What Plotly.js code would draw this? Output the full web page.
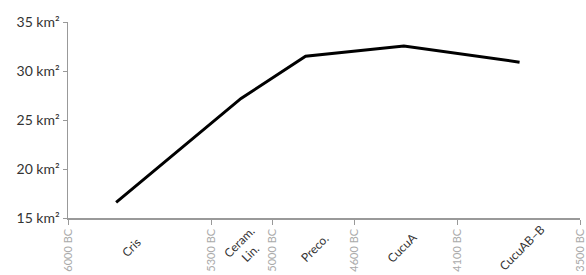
<!DOCTYPE html>
<html>
<head>
<meta charset="utf-8">
<script src="https://cdn.plot.ly/plotly-3.0.1.min.js"></script>
<style>html,body{margin:0;padding:0;background:#fff;}#chart{width:586px;height:275px;}</style>
</head>
<body>
<div id="chart"></div>
<script>
// Data (years BC, settlement area in km²)
var years = [5765, 5155, 4840, 4360, 3795];
var area = [16.6, 27.2, 31.5, 32.55, 30.9];
var tickYears = [6000, 5300, 5000, 4600, 4100, 3500];
var tickLabels = ['6000 BC', '5300 BC', '5000 BC', '4600 BC', '4100 BC', '3500 BC'];
var phaseNames = ['Cris', 'Ceram.<br>Lin.', 'Preco.', 'CucuA', 'CucuAB–B'];
var phaseYears = [5692, 5136, 4794, 4369, 3783];
var yTicks = [15, 20, 25, 30, 35];
var yTickLabels = ['15 km²', '20 km²', '25 km²', '30 km²', '35 km²'];

var trace = {
  x: years, y: area, type: 'scatter', mode: 'lines',
  line: {color: '#000', width: 3}, hoverinfo: 'skip'
};

var annotations = phaseNames.map(function (n, i) {
  return {
    x: phaseYears[i], xref: 'x', y: -0.15, yref: 'paper',
    text: n, showarrow: false, textangle: -45,
    xanchor: 'center', yanchor: 'middle', align: 'center',
    font: {family: 'Lato, Open Sans, sans-serif', size: 12, color: '#333'}
  };
});

var layout = {
  width: 586, height: 275,
  margin: {l: 68, r: 6, t: 22, b: 57},
  paper_bgcolor: '#fff', plot_bgcolor: '#fff',
  showlegend: false,
  xaxis: {
    range: [6000, 3500], tickmode: 'array', tickvals: tickYears, ticktext: tickLabels,
    tickangle: -90, ticks: 'outside', ticklen: 5, tickcolor: '#999', tickwidth: 1,
    showline: true, linecolor: '#999', linewidth: 1.5, showgrid: false, zeroline: false,
    tickfont: {family: 'Lato, Open Sans, sans-serif', size: 11, color: '#aaa'}
  },
  yaxis: {
    range: [15, 35], tickmode: 'array', tickvals: yTicks, ticktext: yTickLabels,
    ticks: 'outside', ticklen: 4, tickcolor: '#999', tickwidth: 1,
    showline: true, linecolor: '#999', linewidth: 1.5, showgrid: false, zeroline: false,
    tickfont: {family: 'Lato, Open Sans, sans-serif', size: 14, color: '#333'}
  },
  annotations: annotations
};

Plotly.newPlot('chart', [trace], layout, {staticPlot: true, displayModeBar: false});
</script>
</body>
</html>
